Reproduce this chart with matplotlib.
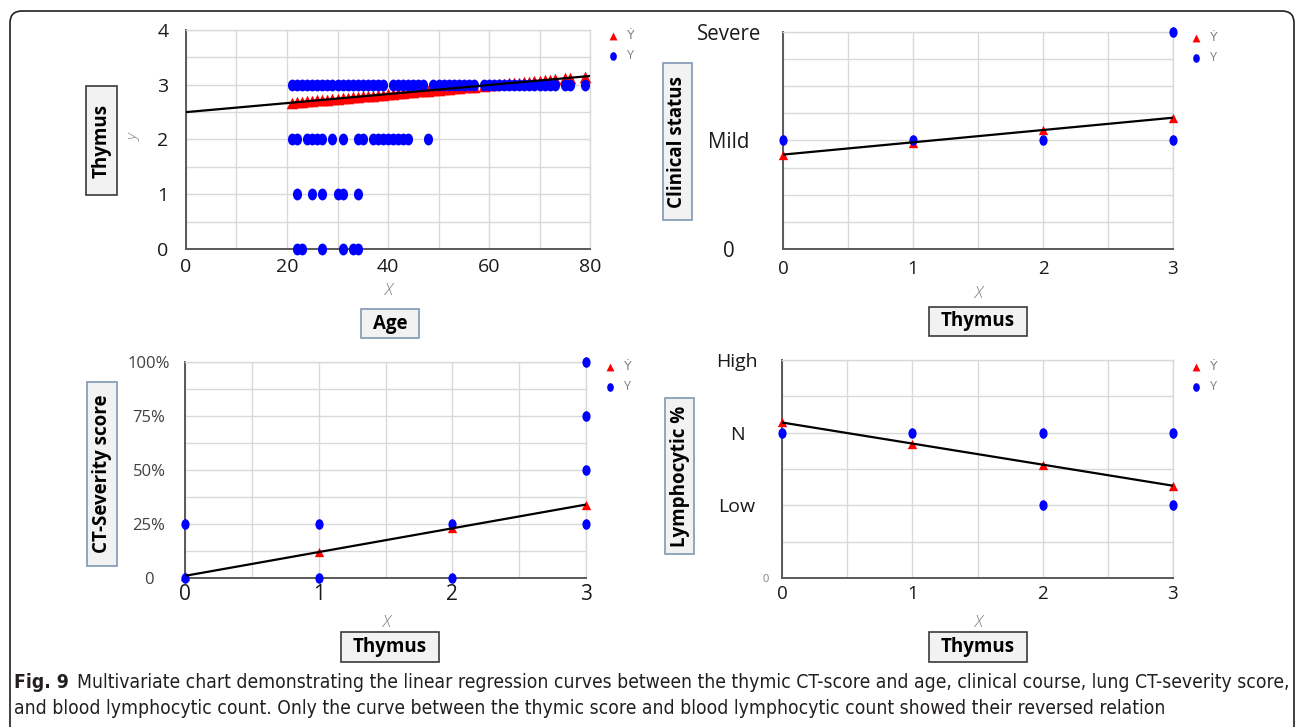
import matplotlib
matplotlib.use('Agg')
import os
import matplotlib.pyplot as plt
from matplotlib.patches import Rectangle, FancyBboxPatch
from matplotlib.markers import MarkerStyle
from matplotlib.transforms import Affine2D
from matplotlib.ticker import MultipleLocator
from matplotlib import font_manager as fm
from matplotlib.font_manager import FontProperties

# ---------------- data ----------------
# Panel A: Thymus score vs Age
age_obs_y3 = [21, 22, 23, 24, 25, 26, 27, 28, 29, 30, 31, 32, 33, 34, 35, 36, 37, 38, 39,
              41, 42, 43, 44, 45, 46, 47, 49, 50, 51, 52, 53, 54, 55, 56, 57,
              59, 60, 61, 62, 63, 64, 65, 66, 67, 68, 69, 70, 71, 72, 73, 75, 76, 79]
age_obs_y2 = [21, 22, 24, 25, 26, 27, 29, 31, 34, 35, 37, 38, 39, 40, 41, 42, 43, 44, 48]
age_obs_y1 = [22, 25, 27, 30, 31, 34]
age_obs_y0 = [22, 23, 27, 31, 33, 34]
age_fit_x = [21, 22, 23, 24, 25, 26, 27, 28, 29, 30, 31, 32, 33, 34, 35, 36, 37, 38, 39, 40,
             41, 42, 43, 44, 45, 46, 47, 48, 49, 50, 51, 52, 53, 54, 55, 56, 57,
             59, 60, 61, 62, 63, 64, 65, 66, 67, 68, 69, 70, 71, 72, 73, 75, 76, 79]
age_fit_y = [2.672, 2.680, 2.689, 2.697, 2.705, 2.713, 2.721, 2.730, 2.738, 2.746,
             2.754, 2.762, 2.771, 2.779, 2.787, 2.795, 2.803, 2.812, 2.820, 2.828,
             2.836, 2.844, 2.853, 2.861, 2.869, 2.877, 2.885, 2.894, 2.902, 2.910,
             2.918, 2.926, 2.935, 2.943, 2.951, 2.959, 2.967,
             2.984, 2.992, 3.000, 3.008, 3.017, 3.025, 3.033, 3.041, 3.049, 3.058,
             3.066, 3.074, 3.082, 3.090, 3.099, 3.115, 3.123, 3.148]
age_line_x = [0, 80]
age_line_y = [2.50, 3.16]
age_xticks = [0, 20, 40, 60, 80]
age_yticks = [0, 1, 2, 3, 4]

# Panel B: Clinical status vs Thymus
thymus_x = [0, 1, 2, 3]
thymus_ticks = [0, 1, 2, 3]
clin_obs_x = [0, 1, 2, 3, 3]
clin_obs_y = [1, 1, 1, 1, 2]
clin_fit_y = [0.87, 0.98, 1.10, 1.21]
clin_line_y = [0.87, 1.21]
clin_ticks = [0, 1, 2]
clin_labels = ['0', 'Mild', 'Severe']

# Panel C: CT-severity score vs Thymus
ct_obs_x = [0, 0, 1, 1, 2, 2, 3, 3, 3, 3]
ct_obs_y = [0.25, 0.0, 0.25, 0.0, 0.25, 0.0, 1.0, 0.75, 0.50, 0.25]
ct_fit_y = [0.01, 0.12, 0.23, 0.34]
ct_line_y = [0.01, 0.34]
ct_ticks = [0, 0.25, 0.5, 0.75, 1.0]
ct_labels = ['0', '25%', '50%', '75%', '100%']

# Panel D: Lymphocytic % vs Thymus
lym_obs_x = [0, 1, 2, 2, 3, 3]
lym_obs_y = [2, 2, 2, 1, 2, 1]
lym_fit_y = [2.14, 1.85, 1.56, 1.27]
lym_line_y = [2.14, 1.27]
lym_ticks = [0, 1, 2, 3]
lym_labels = ['0', 'Low', 'N', 'High']

legend_labels = ['\u1E8E', 'Y']
caption_bold = 'Fig. 9'
caption_line1 = ('Multivariate chart demonstrating the linear regression curves between the thymic '
                 'CT-score and age, clinical course, lung CT-severity score,')
caption_line2 = ('and blood lymphocytic count. Only the curve between the thymic score and blood '
                 'lymphocytic count showed their reversed relation')

# ---------------- style ----------------
W, H = 1298, 727
fig = plt.figure(figsize=(W / 100, H / 100), dpi=100)
fig.patch.set_facecolor('white')
plt.rcParams['font.family'] = ['Open Sans', 'DejaVu Sans']

RED = '#ff0000'
BLUE = '#0000ff'
GRID = '#d9d9d9'
AXC = '#595959'
BOXBLUE = '#7f97b5'
BOXDARK = '#3a3a3a'

WEIGHT_WORDS = ['bold', 'black', 'heavy', 'semi', 'demi', 'medium', 'light', 'thin', 'extra',
                'ultra', 'italic', 'oblique']


def find_condensed():
    prefs = ['liberationsansnarrow', 'dejavusanscondensed', 'opensanscondensed',
             'robotocondensed', 'notosanscondensed', 'condensed', 'narrow']
    files = sorted({f.fname for f in fm.fontManager.ttflist})
    for p in prefs:
        cands = [fn for fn in files if p in os.path.basename(fn).lower().replace('-', '').replace('_', '')]
        if not cands:
            continue
        reg = None
        bld = None
        for fn in cands:
            b = os.path.basename(fn).lower()
            stem = b.replace(p, '')
            if not any(w in stem for w in WEIGHT_WORDS):
                reg = reg or fn
        for fn in cands:
            b = os.path.basename(fn).lower()
            stem = b.replace(p, '')
            if 'bold' in stem and not any(w in stem for w in ['semi', 'extra', 'italic', 'oblique', 'ultra', 'demi']):
                bld = bld or fn
        if reg:
            return reg, (bld or reg)
    return None, None


reg_path, bold_path = find_condensed()
if reg_path:
    cap_reg = FontProperties(fname=reg_path)
    cap_bold = FontProperties(fname=bold_path)
else:
    cap_reg = FontProperties(family='Open Sans')
    cap_bold = FontProperties(family='Open Sans', weight='bold')


def fx(x):
    return x / W


def fy(y):
    return 1 - y / H


def add_axes(l, t, r, b):
    return fig.add_axes([fx(l), fy(b), (r - l) / W, (b - t) / H])


def style(ax, xlim, ylim, xminor, yminor):
    ax.set_xlim(xlim)
    ax.set_ylim(ylim)
    ax.xaxis.set_minor_locator(MultipleLocator(xminor))
    ax.yaxis.set_minor_locator(MultipleLocator(yminor))
    ax.grid(True, which='both', color=GRID, lw=1.0)
    ax.set_axisbelow(True)
    for s in ['top', 'right']:
        ax.spines[s].set_color(GRID)
        ax.spines[s].set_linewidth(1.0)
    for s in ['left', 'bottom']:
        ax.spines[s].set_color(AXC)
        ax.spines[s].set_linewidth(1.4)
    ax.tick_params(which='both', length=0)
    ax.set_facecolor('white')


circ = MarkerStyle('o', transform=Affine2D().scale(0.85, 1.1))


def draw(ax, ox, oy, fxv, fyv, lx, ly, ms_c=48, ms_t=45):
    r = ax.scatter(fxv, fyv, marker='^', s=ms_t, color=RED, zorder=3, clip_on=False, linewidths=0)
    b = ax.scatter(ox, oy, marker=circ, s=ms_c, color=BLUE, zorder=4, clip_on=False, linewidths=0)
    ax.plot(lx, ly, color='black', lw=1.6, zorder=5, solid_capstyle='butt')
    return r, b


def legend(ax, r, b, xm, ytop):
    fs = 9
    leg = ax.legend([r, b], legend_labels, loc='upper left',
                    bbox_to_anchor=(fx(xm - 5), fy(ytop)), bbox_transform=fig.transFigure,
                    frameon=False, borderpad=0, borderaxespad=0, handlelength=0.8,
                    handletextpad=0.7, labelspacing=0.55, fontsize=fs, labelcolor='#808080',
                    scatterpoints=1)
    for h in leg.legend_handles:
        h.set_sizes([32])


def box(x0, y0, x1, y1, text, edge, rot=0, fs=13.5):
    fig.add_artist(Rectangle((fx(x0), fy(y1)), (x1 - x0) / W, (y1 - y0) / H,
                             transform=fig.transFigure, facecolor='#f2f2f2',
                             edgecolor=edge, lw=1.2))
    fig.text(fx((x0 + x1) / 2), fy((y0 + y1) / 2), text, rotation=rot, ha='center',
             va='center', fontsize=fs, fontweight='bold', color='black')


def gray_label(x, y, t, rot=0, fs=12):
    fig.text(fx(x), fy(y), t, ha='center', va='center', fontsize=fs, color='#808080',
             style='italic', rotation=rot, fontweight='light')


def pt(px):
    return px * 0.72


def ticklabels(ax, xs, xpad, ys, ypad, ycolor='#1a1a1a'):
    ax.tick_params(axis='x', labelsize=xs, pad=pt(xpad), labelcolor='#1a1a1a')
    ax.tick_params(axis='y', labelsize=ys, pad=pt(ypad), labelcolor=ycolor)
    for lab in ax.get_xticklabels():
        lab.set_va('center')
    for lab in ax.get_yticklabels():
        lab.set_ha('center')


# ---------------- Panel A ----------------
axA = add_axes(186, 30, 590, 249)
style(axA, (0, 80), (0, 4), 10, 0.5)
axA.set_xticks(age_xticks)
axA.set_yticks(age_yticks)
ticklabels(axA, 14, 18, 14, 23)
a_obs_x = age_obs_y3 + age_obs_y2 + age_obs_y1 + age_obs_y0
a_obs_y = [3] * len(age_obs_y3) + [2] * len(age_obs_y2) + [1] * len(age_obs_y1) + [0] * len(age_obs_y0)
rA, bA = draw(axA, a_obs_x, a_obs_y, age_fit_x, age_fit_y, age_line_x, age_line_y, ms_c=60, ms_t=70)
legend(axA, rA, bA, 613, 29)
box(86, 86, 117, 195, 'Thymus', BOXDARK, rot=90)
box(361, 309, 419, 338, 'Age', BOXBLUE)
gray_label(388, 291, 'X')
gray_label(135, 138, 'y', rot=90, fs=11)

# ---------------- Panel B ----------------
axB = add_axes(783, 32, 1173, 249)
style(axB, (0, 3), (0, 2), 0.5, 0.25)
axB.set_xticks(thymus_ticks)
axB.set_yticks(clin_ticks, clin_labels)
ticklabels(axB, 13.5, 20, 14.8, 54)
rB, bB = draw(axB, clin_obs_x, clin_obs_y, thymus_x, clin_fit_y, [0, 3], clin_line_y)
legend(axB, rB, bB, 1196, 31)
box(663, 63, 692, 220, 'Clinical status', BOXBLUE, rot=90)
box(929, 307, 1027, 336, 'Thymus', BOXDARK)
gray_label(978, 294, 'X')

# ---------------- Panel C ----------------
axC = add_axes(185, 362, 586, 578)
style(axC, (0, 3), (0, 1), 0.5, 0.125)
axC.set_xticks(thymus_ticks)
axC.set_yticks(ct_ticks, ct_labels)
ticklabels(axC, 15, 16, 12, 36, ycolor='#404040')
rC, bC = draw(axC, ct_obs_x, ct_obs_y, thymus_x, ct_fit_y, [0, 3], ct_line_y)
legend(axC, rC, bC, 610, 360)
box(87, 382, 117, 566, 'CT-Severity score', BOXBLUE, rot=90)
box(341, 632, 439, 662, 'Thymus', BOXDARK)
gray_label(386, 623, 'X')

# ---------------- Panel D ----------------
axD = add_axes(782, 360, 1173, 578)
style(axD, (0, 3), (0, 3), 0.5, 0.5)
axD.set_xticks(thymus_ticks)
axD.set_yticks(lym_ticks, lym_labels)
ticklabels(axD, 13.5, 16, 14, 45)
t0 = axD.yaxis.get_major_ticks()[0]
t0.set_pad(pt(16))
t0.label1.set_fontsize(8)
t0.label1.set_color('#808080')
rD, bD = draw(axD, lym_obs_x, lym_obs_y, thymus_x, lym_fit_y, [0, 3], lym_line_y)
legend(axD, rD, bD, 1196, 360)
box(665, 398, 694, 554, 'Lymphocytic %', BOXBLUE, rot=90)
box(929, 632, 1027, 662, 'Thymus', BOXDARK)
gray_label(978, 623, 'X')

# ---------------- border & caption ----------------
fig.add_artist(FancyBboxPatch((10, -40), 1284, 716 + 40, boxstyle='round,pad=0,rounding_size=12',
                              transform=None, facecolor='none', edgecolor='#231f20', lw=1.2))

renderer = fig.canvas.get_renderer()
fs = 12.0
tb = fig.text(fx(14), fy(682), caption_bold, fontproperties=cap_bold, va='center', color='#231f20')
t1 = fig.text(0, fy(682), caption_line1, fontproperties=cap_reg, va='center', color='#231f20')
t2 = fig.text(fx(14), fy(708), caption_line2, fontproperties=cap_reg, va='center', color='#231f20')
for t in (tb, t1, t2):
    t.set_fontsize(fs)
for _ in range(3):
    bb = tb.get_window_extent(renderer)
    t1.set_x(fx(bb.x1 + fs * 0.6))
    b1 = t1.get_window_extent(renderer)
    total = b1.x1 - bb.x0
    fs = fs * (1287 - 14) / total
    for t in (tb, t1, t2):
        t.set_fontsize(fs)
bb = tb.get_window_extent(renderer)
t1.set_x(fx(bb.x1 + fs * 0.6))

fig.savefig('out.png', dpi=100)
